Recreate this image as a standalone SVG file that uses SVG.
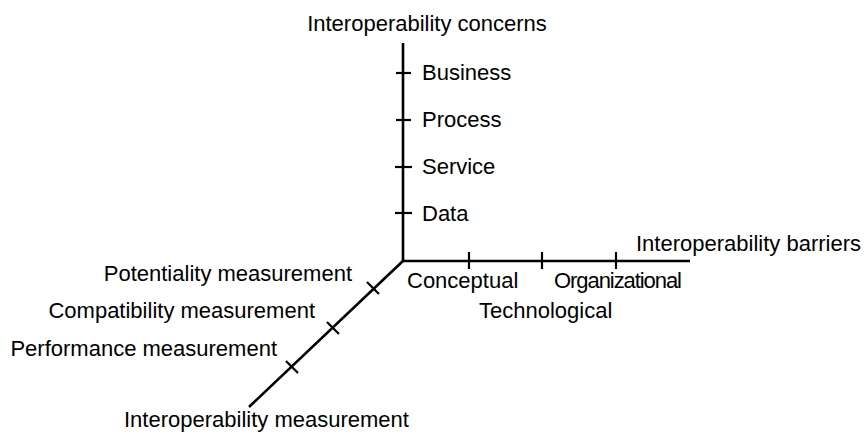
<svg xmlns="http://www.w3.org/2000/svg" width="866" height="434" viewBox="0 0 866 434">
<style>
text{font-family:"Liberation Sans",Arial,sans-serif;font-size:22px;fill:#000}
.ax{stroke:#000;stroke-width:2.6;fill:none}
.tk{stroke:#000;stroke-width:2.2;fill:none}
</style>
<rect width="866" height="434" fill="#fff"/>
<g id="connectors">
<line class="ax" x1="403" y1="43" x2="403" y2="262"/>
<line class="ax" x1="402" y1="261" x2="690" y2="261"/>
<line class="ax" x1="404" y1="260" x2="249" y2="407"/>
</g>
<g id="axis-concerns">
<text x="427" y="31" text-anchor="middle">Interoperability concerns</text>
</g>
<g id="concern-business"><line class="tk" x1="396" y1="73" x2="411" y2="73"/><text x="422" y="80">Business</text></g>
<g id="concern-process"><line class="tk" x1="396" y1="120" x2="411" y2="120"/><text x="422" y="127">Process</text></g>
<g id="concern-service"><line class="tk" x1="395" y1="167" x2="412" y2="167"/><text x="422" y="174">Service</text></g>
<g id="concern-data"><line class="tk" x1="395" y1="213" x2="412" y2="213"/><text x="422" y="221">Data</text></g>
<g id="axis-barriers"><text x="636" y="251">Interoperability barriers</text></g>
<g id="barrier-conceptual"><line class="tk" x1="469" y1="252" x2="469" y2="269"/><text x="407" y="288">Conceptual</text></g>
<g id="barrier-technological"><line class="tk" x1="542" y1="252" x2="542" y2="269"/><text x="479" y="318">Technological</text></g>
<g id="barrier-organizational"><line class="tk" x1="616" y1="252" x2="616" y2="269"/><text x="554" y="288" textLength="128">Organizational</text></g>
<g id="axis-measurement"><text x="124" y="427">Interoperability measurement</text></g>
<g id="measure-potentiality"><line class="tk" x1="367" y1="282" x2="379" y2="294"/><text x="352" y="281" text-anchor="end">Potentiality measurement</text></g>
<g id="measure-compatibility"><line class="tk" x1="327" y1="322" x2="339" y2="334"/><text x="315" y="318" text-anchor="end">Compatibility measurement</text></g>
<g id="measure-performance"><line class="tk" x1="286" y1="361" x2="298" y2="373"/><text x="277" y="356" text-anchor="end">Performance measurement</text></g>
</svg>
